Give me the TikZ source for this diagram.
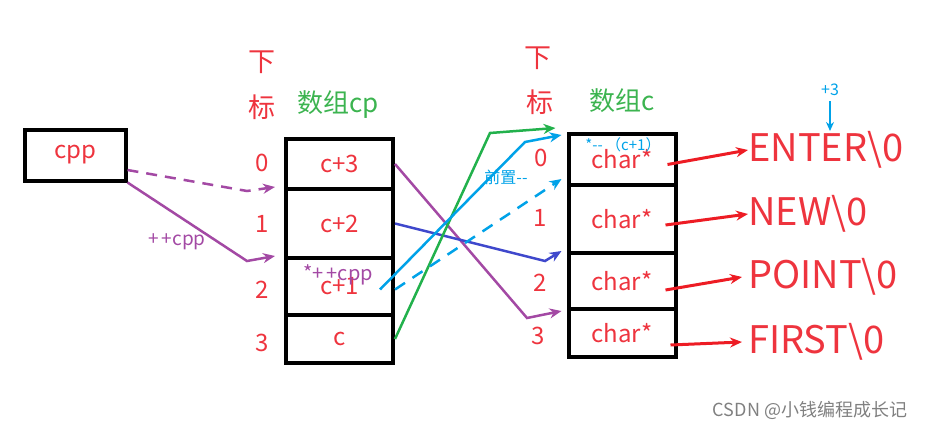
\documentclass[tikz,border=0pt]{standalone}
\usepackage{fontspec}
\setmainfont{Noto Sans CJK SC}
\usetikzlibrary{arrows.meta}
\usetikzlibrary{positioning}
\definecolor{txtred}{RGB}{238,52,62}
\definecolor{txtgreen}{RGB}{60,180,80}
\definecolor{lnpurple}{RGB}{163,73,164}
\definecolor{lnindigo}{RGB}{63,72,204}
\definecolor{lncyan}{RGB}{0,162,232}
\definecolor{lngreen}{RGB}{34,177,76}
\definecolor{lnred}{RGB}{237,28,36}

\begin{document}
\begin{tikzpicture}[x=1pt,y=-1pt,
  every node/.style={inner sep=0pt},
  cellbox/.style={draw=black,line width=4pt,minimum width=107pt},
  redtxt/.style={text=txtred,font=\fontsize{24}{28}\selectfont},
  headtxt/.style={text=txtred,font=\fontsize{27}{30}\selectfont},
  arrname/.style={text=txtgreen,font=\fontsize{26}{30}\selectfont},
  strtxt/.style={text=txtred,font=\fontsize{38}{42}\selectfont,anchor=west},
  tip/.style={-{Stealth[length=12pt,width=10pt]}},
  ptrline/.style={tip,line width=2.5pt}]
\useasboundingbox (0,0) rectangle (931,428);

% pointer cpp
\node[draw=black,line width=4pt,minimum width=101pt,minimum height=51pt,redtxt] (cpp) at (75,155) {cpp};

% array cp
\node[headtxt] (cpdown) at (262,62) {下};
\node[headtxt] (cpmark) at (262,107) {标};
\node[arrname] (cpname) at (338,105) {数组cp};
\node[cellbox,minimum height=50pt,redtxt] (cp0) at (339.5,164) {c+3};
\node[cellbox,minimum height=69pt,redtxt] (cp1) at (339.5,223.5) {c+2};
\node[cellbox,minimum height=57pt,redtxt] (cp2) at (339.5,286.5) {c+1};
\node[cellbox,minimum height=48pt,redtxt] (cp3) at (339.5,339) {c};
\node[redtxt] (cpi0) at (262,163) {0};
\node[redtxt] (cpi1) at (262,224) {1};
\node[redtxt] (cpi2) at (262,290) {2};
\node[redtxt] (cpi3) at (262,343) {3};

% array c
\node[headtxt] (cdown) at (538,58) {下};
\node[headtxt] (cmark) at (540,102) {标};
\node[arrname] (cname) at (622,101) {数组c};
\node[cellbox,minimum height=51pt,redtxt] (c0) at (622,159.5) {char*};
\node[cellbox,minimum height=68pt,redtxt] (c1) at (622,219) {char*};
\node[cellbox,minimum height=56pt,redtxt] (c2) at (622,281) {char*};
\node[cellbox,minimum height=48pt,redtxt] (c3) at (622,333) {char*};
\node[redtxt] (ci0) at (541,158) {0};
\node[redtxt] (ci1) at (540,218) {1};
\node[redtxt] (ci2) at (540,283) {2};
\node[redtxt] (ci3) at (538,336) {3};

% strings
\node[strtxt] (str0) at (748,150) {ENTER\textbackslash 0};
\node[strtxt] (str1) at (748,214) {NEW\textbackslash 0};
\node[strtxt] (str2) at (748,277) {POINT\textbackslash 0};
\node[strtxt] (str3) at (748,342) {FIRST\textbackslash 0};

% bends
\coordinate (b1) at (247,191);
\coordinate (b2) at (247,261);
\coordinate (b3) at (527,318);
\coordinate (b4) at (545,261);
\coordinate (b5) at (525,142);
\coordinate (b6) at (490,133);

% cpp -> cp
\draw[ptrline,lnpurple,dash pattern=on 11pt off 8pt] ([yshift=-15pt]cpp.east) -- (b1) -- ([xshift=-9pt]cp1.north west);
\draw[ptrline,lnpurple] (cpp.south east) -- (b2) -- ([xshift=-9pt]cp2.north west);
\node[text=lnpurple,font=\fontsize{19}{21}\selectfont] (inc) at (177,242) {+\,+cpp};

% cp -> c
\draw[ptrline,lnpurple] (cp0.east) -- (b3) -- ([xshift=-5pt,yshift=-4pt]c3.north west);
\draw[ptrline,lnindigo] (cp1.east) -- (b4) -- ([xshift=-5pt]c2.north west);
\draw[ptrline,lngreen] (cp3.east) -- (b6) -- ([xshift=-11pt,yshift=4pt]c0.north west);
\draw[ptrline,lncyan] ([xshift=-15pt,yshift=-3pt]cp2.east) -- (b5) -- ([xshift=-5pt,yshift=-3pt]c0.north west);
\draw[ptrline,lncyan,dash pattern=on 12pt off 9pt] ([yshift=-3pt]cp2.east) -- ([xshift=-5pt,yshift=4pt]c1.north west);
\node[text=lnpurple,font=\fontsize{20}{22}\selectfont] (incderef) at (338,275) {*+\,+cpp};
\node[text=lncyan,font=\fontsize{16}{18}\selectfont] (predec) at (506,177) {前置-{}-};
\node[text=lncyan,font=\fontsize{15}{17}\selectfont] (decderef) at (623,145) {*-{}- （c+1）};

% c -> strings
\draw[ptrline,lnred,line width=3pt] ([xshift=-10pt,yshift=-5pt]c0.east) -- (str0.west);
\draw[ptrline,lnred,line width=3pt] ([xshift=-12pt,yshift=-6pt]c1.east) -- (str1.west);
\draw[ptrline,lnred,line width=3pt] ([xshift=-12pt,yshift=-9pt]c2.east) -- ([xshift=-6pt]str2.west);
\draw[ptrline,lnred,line width=3pt] ([xshift=-7pt,yshift=-12pt]c3.east) -- ([xshift=-6pt]str3.west);

% offset
\node[text=lncyan,font=\fontsize{16}{18}\selectfont] (plus3) at (830,90) {+3};
\draw[lncyan,line width=2.5pt,-{Stealth[length=9pt,width=8pt]}] ([yshift=-5pt]plus3.south) -- (plus3.south |- 0,131);

\node[text=gray,font=\fontsize{18}{20}\selectfont] (mark) at (810,410) {CSDN @小钱编程成长记};
\end{tikzpicture}
\end{document}
